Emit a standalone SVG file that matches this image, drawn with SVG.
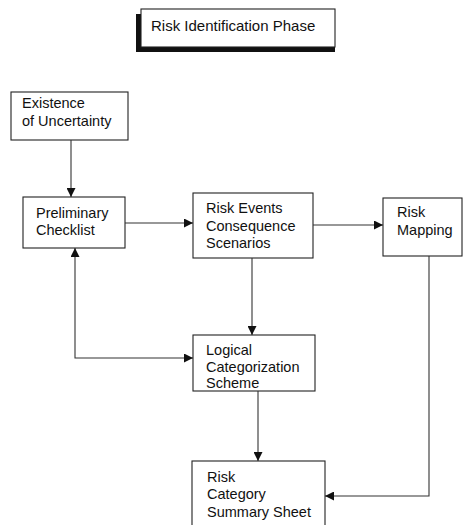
<svg xmlns="http://www.w3.org/2000/svg" width="464" height="525" viewBox="0 0 464 525">
<style>
.box{fill:#fff;stroke:#222;stroke-width:1.1}
.t{font-family:"Liberation Sans",Arial,sans-serif;font-size:14.5px;fill:#111}
.c{fill:none;stroke:#333;stroke-width:1.1}
</style>
<defs>
<marker id="ah" viewBox="0 0 10 10" refX="10" refY="5" markerWidth="10" markerHeight="9" markerUnits="userSpaceOnUse" orient="auto-start-reverse">
<path d="M0,0 L10,5 L0,10 Z" fill="#111"/>
</marker>
</defs>
<rect width="464" height="525" fill="#fff"/>
<g id="title">
<path d="M136,14 H141 V47 H335 V52 H136 Z" fill="#111"/>
<rect class="box" x="141" y="9" width="194" height="38"/>
<text class="t" x="151" y="31" style="font-size:15px">Risk Identification Phase</text>
</g>
<g id="existence">
<rect class="box" x="11" y="92" width="117" height="48"/>
<text class="t" x="22" y="108">Existence</text>
<text class="t" x="22" y="126">of Uncertainty</text>
</g>
<g id="preliminary">
<rect class="box" x="23" y="197" width="102" height="51"/>
<text class="t" x="36" y="218">Preliminary</text>
<text class="t" x="36" y="235">Checklist</text>
</g>
<g id="riskevents">
<rect class="box" x="193" y="193" width="120" height="65"/>
<text class="t" x="206" y="213">Risk Events</text>
<text class="t" x="206" y="231">Consequence</text>
<text class="t" x="206" y="248">Scenarios</text>
</g>
<g id="mapping">
<rect class="box" x="383" y="198" width="79" height="58"/>
<text class="t" x="397" y="217">Risk</text>
<text class="t" x="397" y="235">Mapping</text>
</g>
<g id="logical">
<rect class="box" x="193" y="335" width="122" height="56"/>
<text class="t" x="206" y="355">Logical</text>
<text class="t" x="206" y="372">Categorization</text>
<text class="t" x="206" y="388">Scheme</text>
</g>
<g id="summary">
<rect class="box" x="192" y="461" width="133" height="70"/>
<text class="t" x="207" y="482">Risk</text>
<text class="t" x="207" y="499">Category</text>
<text class="t" x="207" y="517">Summary Sheet</text>
</g>
<g id="connectors">
<path class="c" d="M71,140 V197" marker-end="url(#ah)"/>
<path class="c" d="M125,223 H193" marker-end="url(#ah)"/>
<path class="c" d="M313,225 H383" marker-end="url(#ah)"/>
<path class="c" d="M252,258 V335" marker-end="url(#ah)"/>
<path class="c" d="M75,248 V358 H193" marker-start="url(#ah)" marker-end="url(#ah)"/>
<path class="c" d="M258,391 V461" marker-end="url(#ah)"/>
<path class="c" d="M429,256 V496 H325" marker-end="url(#ah)"/>
</g>
</svg>
